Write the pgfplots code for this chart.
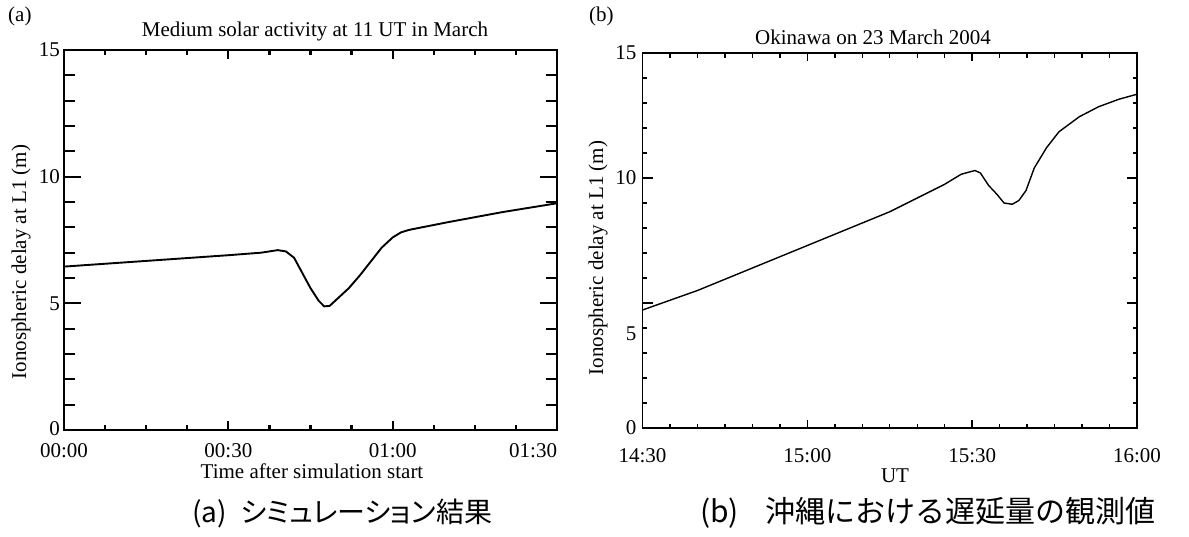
\documentclass[border=0pt]{standalone}
\usepackage{fontspec}
\setmainfont{Liberation Serif}
\newfontfamily\cjk{Noto Sans CJK JP}
\newfontfamily\cjkp[RawFeature=+palt]{Noto Sans CJK JP}
\usepackage{pgfplots}
\pgfplotsset{compat=1.18}
\pgfplotstableread{
t v
0 6.45
10 6.6
20 6.75
30 6.9
36 7.0
39 7.1
40.5 7.05
42 6.8
43.5 6.2
45 5.6
46.5 5.1
47.5 4.88
48.5 4.9
50 5.2
52 5.6
54 6.1
56 6.65
58 7.2
60 7.6
61.5 7.8
63 7.9
70 8.2
80 8.6
90 8.95
}\simdata
\pgfplotstableread{
t v
0 4.72
10 5.5
20 6.4
30 7.3
40 8.2
45 8.65
50 9.2
55 9.75
58 10.15
60.5 10.3
61.5 10.2
63 9.7
64.5 9.35
65.8 9.0
67.3 8.95
68.5 9.1
69.8 9.5
71.3 10.4
73.5 11.2
75.8 11.85
79.5 12.45
83 12.85
86.7 13.15
90 13.35
}\obsdata
\begin{document}
\fontsize{21}{24}\selectfont
\begin{tikzpicture}
\useasboundingbox (0pt,0pt) rectangle (1189pt,-536pt);
\pgfplotsset{
  base/.style={scale only axis, xmin=0, xmax=90, ymin=0, ymax=15,
    tick align=inside, tick pos=both,
    yticklabel style={anchor=east, inner sep=0pt, xshift=-4pt},
    xticklabel style={anchor=base, inner sep=0pt},
  },
}
% ---------- left panel ----------
\begin{axis}[base, at={(64pt,-430pt)}, width=493pt, height=380pt,
  axis line style={line width=2.4pt}, every tick/.style={line width=2.2pt, black},
  major tick length=9pt, minor tick length=5pt,
  xtick={0,30,60,90}, minor xtick={7.5,15,22.5,37.5,45,52.5,67.5,75,82.5},
  xticklabels={00:00,00:30,01:00,\makebox[0pt][r]{01:30}},
  xticklabel style={yshift=-27pt},
  ytick=\empty]
\addplot[black, line width=1.9pt, line join=round] table[x=t,y=v]{\simdata};
\end{axis}
\begin{axis}[base, at={(64pt,-430pt)}, width=493pt, height=380pt,
  axis line style={line width=2.4pt}, every tick/.style={line width=2.2pt, black},
  major tick length=17pt, minor tick length=11pt,
  xtick=\empty, ytick={0,5,10,15}, minor ytick={1,2,3,4,6,7,8,9,11,12,13,14},
  yticklabels={\raisebox{2pt}{0},5,10,15}]
\end{axis}
% ---------- right panel ----------
\begin{axis}[base, at={(642.5pt,-428pt)}, width=494.5pt, height=375pt,
  axis line style={line width=1.6pt}, every tick/.style={line width=1.4pt, black},
  major tick length=8pt, minor tick length=4.5pt,
  xtick={0,30,60,90}, minor xtick={5,10,15,20,25,35,40,45,50,55,65,70,75,80,85},
  xticklabels={14:30,15:00,15:30,16:00},
  xticklabel style={yshift=-34pt},
  ytick=\empty]
\addplot[black, line width=1.4pt, line join=round] table[x=t,y=v]{\obsdata};
\end{axis}
\begin{axis}[base, at={(642.5pt,-428pt)}, width=494.5pt, height=375pt,
  axis line style={line width=1.6pt}, every tick/.style={line width=1.4pt, black},
  major tick length=10pt, minor tick length=4.5pt,
  xtick=\empty, ytick={0,5,10,15}, minor ytick={1,2,3,4,6,7,8,9,11,12,13,14},
  yticklabels={0,\raisebox{-37pt}[0pt][0pt]{5},10,15},
  yticklabel style={xshift=-2pt}]
\end{axis}
% ---------- texts ----------
\node[anchor=base west, inner sep=0pt] at (8pt,-21pt) {(a)};
\node[anchor=base west, inner sep=0pt] at (589pt,-21pt) {(b)};
\node[anchor=base, inner sep=0pt] at (315pt,-36pt) {Medium solar activity at 11 UT in March};
\node[anchor=base, inner sep=0pt] at (873pt,-44pt) {Okinawa on 23 March 2004};
\node[rotate=90, inner sep=0pt] at (21pt,-262pt) {Ionospheric delay at L1 (m)};
\node[rotate=90, inner sep=0pt] at (598pt,-258pt) {Ionospheric delay at L1 (m)};
\node[anchor=base, inner sep=0pt] at (312pt,-478pt) {Time after simulation start};
\node[anchor=base, inner sep=0pt] at (895pt,-482pt) {UT};
\node[anchor=base west, inner sep=0pt, font=\cjk\fontsize{28}{30}\selectfont] at (192pt,-522pt) {(a)\hspace{0.5em}{\cjkp シミュレーション結果}};
\node[anchor=base west, inner sep=0pt, font=\cjk\fontsize{30}{32}\selectfont] at (700pt,-522pt) {(b)\hspace{0.9em}沖縄における遅延量の観測値};
\end{tikzpicture}
\end{document}
